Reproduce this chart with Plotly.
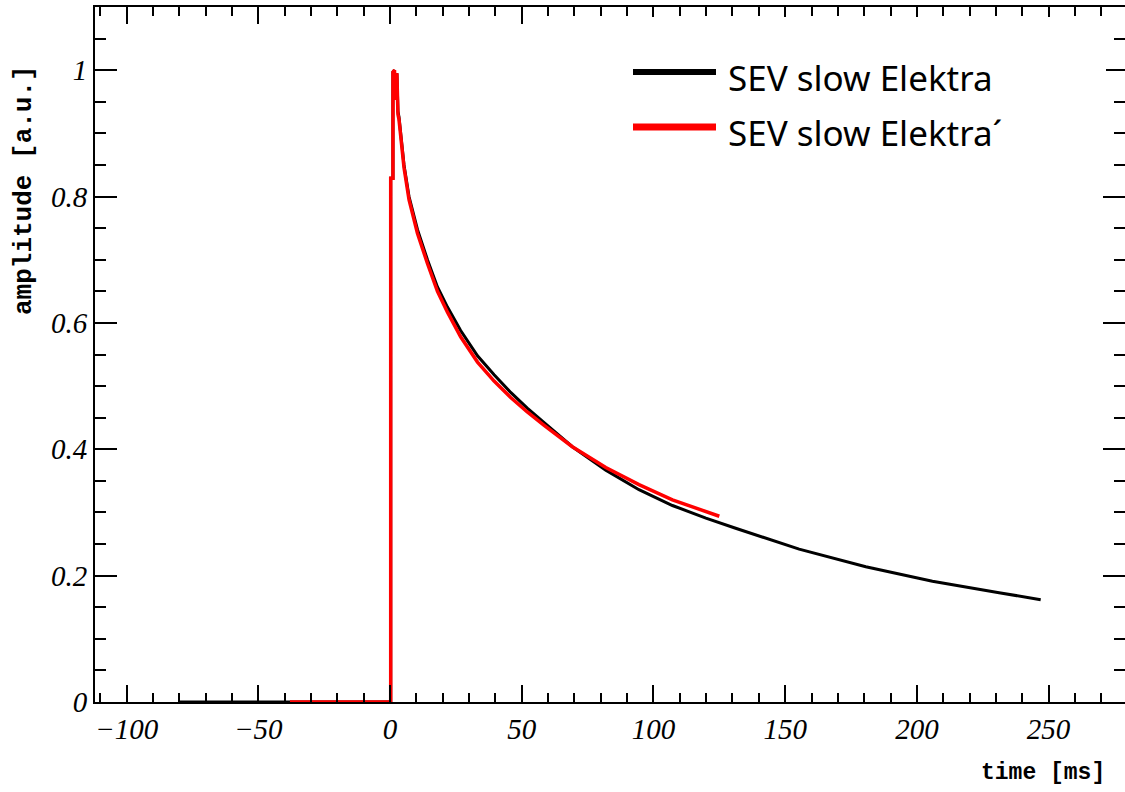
import plotly.graph_objects as go

# Averaged single-event pulse templates (time in ms, normalised amplitude)
t_elektra = [-80, 0.25, 0.25, 1.1, 1.1, 1.7, 1.8, 2.1, 2.6, 3.0, 3.4, 5.3, 7.2, 10.4, 14.2,
             18.0, 21.8, 26.8, 33.2, 39.5, 45.8, 52.1, 58.5, 69.2, 81.9, 94.5, 107.2, 119.9,
             131.2, 155.3, 180.6, 205.9, 231.2, 247.0]
a_elektra = [0.0, 0.0, 0.829, 0.829, 0.997, 1.0, 0.955, 0.99, 0.995, 0.935, 0.926, 0.850,
             0.800, 0.748, 0.700, 0.657, 0.625, 0.588, 0.548, 0.518, 0.490, 0.465, 0.442,
             0.404, 0.367, 0.336, 0.311, 0.291, 0.275, 0.242, 0.214, 0.191, 0.173, 0.162]

t_elektra_p = [-38, 0.25, 0.25, 1.1, 1.1, 1.7, 1.8, 2.1, 2.6, 3.0, 3.4, 5.3, 7.2, 10.4, 14.2,
               18.0, 21.8, 26.8, 33.2, 39.5, 45.8, 52.1, 58.5, 69.2, 81.9, 94.5, 107.2, 125.0]
a_elektra_p = [0.0, 0.0, 0.829, 0.829, 0.997, 1.0, 0.953, 0.99, 0.995, 0.93, 0.922, 0.846,
               0.795, 0.742, 0.694, 0.650, 0.617, 0.578, 0.538, 0.508, 0.482, 0.459, 0.438,
               0.404, 0.371, 0.344, 0.320, 0.294]

series_names = ["SEV slow Elektra", "SEV slow Elektra\u00b4"]
series_colors = ["#000000", "#ff0000"]

W, H = 1125, 792
ML, MR, MT, MB = 95, 0, 7, 90
PW, PH = W - ML - MR, H - MT - MB


def px(x):
    return (x - ML) / PW


def py(y):
    return (H - MB - y) / PH


fig = go.Figure()
fig.add_trace(go.Scatter(x=t_elektra, y=a_elektra, mode="lines", name=series_names[0],
                         line=dict(color=series_colors[0], width=3), showlegend=False))
fig.add_trace(go.Scatter(x=t_elektra_p, y=a_elektra_p, mode="lines", name=series_names[1],
                         line=dict(color=series_colors[1], width=3.5), showlegend=False))

tickfont = dict(family="Liberation Serif", size=29, color="black", style="italic")
fig.update_xaxes(range=[-112, 279], tick0=0, dtick=50, ticks="inside", ticklen=17,
                 tickwidth=1.5, tickcolor="black", showline=True, linecolor="black",
                 linewidth=2, mirror="allticks", showgrid=False, zeroline=False,
                 tickfont=tickfont, ticklabelstandoff=0,
                 minor=dict(dtick=10, ticks="inside", ticklen=9, tickwidth=1.5,
                            tickcolor="black", showgrid=False))
fig.update_yaxes(range=[0, 1.1], tick0=0, dtick=0.2, ticks="inside", ticklen=22,
                 tickwidth=1.5, tickcolor="black", showline=True, linecolor="black",
                 linewidth=2, mirror="allticks", showgrid=False, zeroline=False,
                 tickfont=tickfont, ticklabelstandoff=0,
                 minor=dict(dtick=0.05, ticks="inside", ticklen=11, tickwidth=1.5,
                            tickcolor="black", showgrid=False))

shapes = []
annotations = []

# white legend panel in the upper right corner
shapes.append(dict(type="rect", xref="paper", yref="paper", x0=px(603), x1=px(1106),
                   y0=py(178), y1=py(17), fillcolor="white", line=dict(width=0),
                   layer="above"))

legend_rows = [(72, 77, 6), (127, 132, 7)]
for (ly, ty, lw), name, col in zip(legend_rows, series_names, series_colors):
    shapes.append(dict(type="line", xref="paper", yref="paper", x0=px(633), x1=px(716),
                       y0=py(ly), y1=py(ly), line=dict(color=col, width=lw), layer="above"))
    annotations.append(dict(text=name, xref="paper", yref="paper", x=px(726), y=py(ty),
                            xanchor="left", yanchor="middle", showarrow=False,
                            font=dict(family="Noto Sans", size=35, color="black")))

annotations.append(dict(text="amplitude [a.u.]", xref="paper", yref="paper",
                        x=px(24), y=py(190), xanchor="center", yanchor="middle",
                        textangle=-90, showarrow=False,
                        font=dict(family="Liberation Mono", size=26, color="black",
                                  weight="bold")))
annotations.append(dict(text="time [ms]", xref="paper", yref="paper",
                        x=px(1043), y=py(773), xanchor="center", yanchor="middle",
                        showarrow=False,
                        font=dict(family="Liberation Mono", size=23, color="black",
                                  weight="bold")))

fig.update_layout(width=W, height=H,
                  margin=dict(l=ML, r=MR, t=MT, b=MB, autoexpand=False),
                  paper_bgcolor="white", plot_bgcolor="white",
                  shapes=shapes, annotations=annotations)

fig.write_html("out.html")
